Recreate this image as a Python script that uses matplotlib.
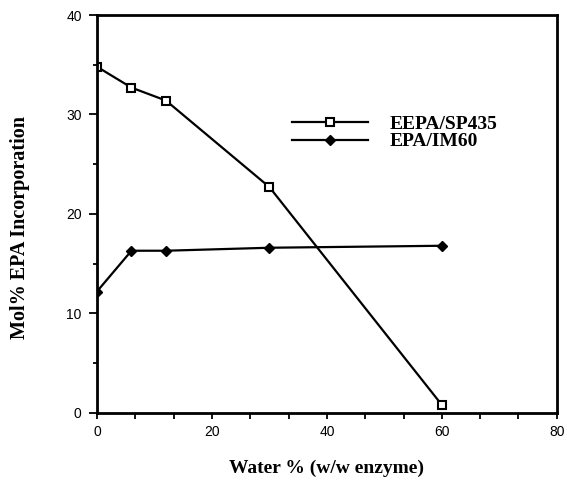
import matplotlib.pyplot as plt
from matplotlib.ticker import MultipleLocator

water = [0, 6, 12, 30, 60]
eepa_sp435 = [34.8, 32.7, 31.4, 22.7, 0.8]
epa_im60 = [12.2, 16.3, 16.3, 16.6, 16.8]

serif = 'Liberation Serif'
sans = 'Liberation Sans'

fig = plt.figure(figsize=(5.67, 4.84), dpi=100)
ax = fig.add_axes([0.171, 0.147, 0.811, 0.822])

ax.plot(water, eepa_sp435, color='black', lw=1.6, marker='s', ms=6,
        mfc='white', mec='black', mew=1.5, label='EEPA/SP435')
ax.plot(water, epa_im60, color='black', lw=1.6, marker='D', ms=5.5,
        mfc='black', mec='black', label='EPA/IM60')

ax.set_xlim(0, 80)
ax.set_ylim(0, 40)
ax.xaxis.set_major_locator(MultipleLocator(20))
ax.xaxis.set_minor_locator(MultipleLocator(20 / 3))
ax.yaxis.set_major_locator(MultipleLocator(10))
ax.yaxis.set_minor_locator(MultipleLocator(5))

ax.tick_params(which='both', direction='out', width=1.3, top=False, right=False)
ax.tick_params(axis='x', which='both', length=4)
ax.tick_params(axis='y', which='major', length=6)
ax.tick_params(axis='y', which='minor', length=3)
ax.tick_params(which='major', labelsize=10, pad=5)
for lab in ax.get_xticklabels() + ax.get_yticklabels():
    lab.set_family(sans)

for sp in ax.spines.values():
    sp.set_linewidth(2)

ax.set_xlabel('Water % (w/w enzyme)', family=serif, fontweight='bold',
              fontsize=14, labelpad=15)
ax.set_ylabel('Mol% EPA Incorporation', family=serif, fontweight='bold',
              fontsize=14.5)
ax.yaxis.set_label_coords(-0.146, 0.465)

ax.legend(loc='upper left', bbox_to_anchor=(0.387, 0.792), frameon=False,
          handlelength=3.9, handletextpad=1.1, labelspacing=0.0,
          prop={'family': serif, 'weight': 'bold', 'size': 14})

fig.savefig('out.png', dpi=100)
